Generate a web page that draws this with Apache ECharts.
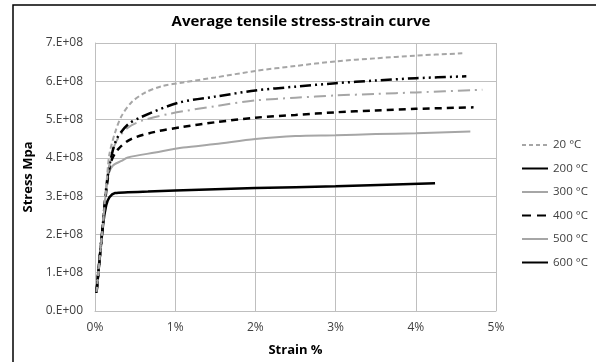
<!DOCTYPE html>
<html>
<head>
<meta charset="utf-8">
<script src="https://cdn.jsdelivr.net/npm/echarts@6/dist/echarts.min.js"></script>
<style>html,body{margin:0;padding:0;background:#fff}#c{width:596px;height:362px}</style>
</head>
<body>
<div id="c"></div>
<script>
var seriesNames = ['20 °C', '200 °C', '300 °C', '400 °C', '500 °C', '600 °C'];
var s20 = [[0.02,0.5e8],[0.1,2.3e8],[0.15,3.5e8],[0.18,4.1e8],[0.25,4.66e8],[0.33,5.09e8],[0.45,5.44e8],[0.62,5.70e8],[0.83,5.87e8],[1.1,5.97e8],[1.5,6.1e8],[2,6.27e8],[2.5,6.4e8],[3,6.52e8],[3.5,6.6e8],[4,6.67e8],[4.58,6.73e8]];
var s200 = [[0.02,0.5e8],[0.1,2.3e8],[0.15,3.4e8],[0.2,4.0e8],[0.27,4.49e8],[0.41,4.87e8],[0.58,5.07e8],[1.04,5.44e8],[1.5,5.6e8],[2,5.76e8],[2.5,5.86e8],[3,5.95e8],[3.5,6.02e8],[4,6.08e8],[4.63,6.13e8]];
var s300 = [[0.02,0.5e8],[0.1,2.3e8],[0.15,3.4e8],[0.2,4.0e8],[0.27,4.45e8],[0.41,4.79e8],[0.6,4.98e8],[0.95,5.16e8],[1.5,5.35e8],[2,5.5e8],[2.5,5.57e8],[3,5.63e8],[3.5,5.67e8],[4,5.71e8],[4.83,5.78e8]];
var s400 = [[0.02,0.5e8],[0.1,2.3e8],[0.15,3.3e8],[0.2,3.9e8],[0.29,4.23e8],[0.45,4.49e8],[0.75,4.68e8],[1.1,4.81e8],[1.5,4.93e8],[2,5.05e8],[2.5,5.12e8],[3,5.19e8],[3.5,5.24e8],[4,5.28e8],[4.72,5.32e8]];
var s500 = [[0.02,0.5e8],[0.1,2.3e8],[0.16,3.49e8],[0.22,3.79e8],[0.33,3.92e8],[0.41,4.01e8],[0.75,4.14e8],[1.1,4.27e8],[1.5,4.36e8],[2,4.49e8],[2.5,4.57e8],[3,4.59e8],[3.5,4.62e8],[4,4.64e8],[4.68,4.69e8]];
var s600 = [[0.017,0.47e8],[0.1,2.24e8],[0.14,2.76e8],[0.18,2.97e8],[0.25,3.08e8],[0.41,3.1e8],[0.66,3.12e8],[1,3.15e8],[2,3.21e8],[3,3.26e8],[4.24,3.34e8]];
var yTickLabels = ['0.E+00','1.E+08','2.E+08','3.E+08','4.E+08','5.E+08','6.E+08','7.E+08'];
var xTickLabels = ['0%','1%','2%','3%','4%','5%'];

var FONT = 'Open Sans';
var gray = '#a6a6a6';
var styles = [
  {color: gray, width: 2, type: [5, 3]},
  {color: '#000', width: 2.5, type: [11, 4, 2, 4, 2, 4]},
  {color: gray, width: 2, type: [12, 5, 2, 5]},
  {color: '#000', width: 2.5, type: [7, 5]},
  {color: gray, width: 2, type: 'solid'},
  {color: '#000', width: 2.5, type: 'solid'}
];
var legendStyles = [
  {type: [4, 3]}, {type: 'solid'}, {type: 'solid'}, {type: [9, 6]}, {type: 'solid'}, {type: 'solid'}
];
var datas = [s20, s200, s300, s400, s500, s600];

var chart = echarts.init(document.getElementById('c'), null, {renderer: 'canvas'});
chart.setOption({
  animation: false,
  backgroundColor: '#fff',
  title: {
    text: 'Average tensile stress-strain curve',
    left: 296, top: 9, textAlign: 'center',
    textStyle: {fontFamily: FONT, fontWeight: 'bold', fontSize: 15, color: '#000'}
  },
  legend: {
    orient: 'vertical', left: 516, top: 134,
    itemWidth: 26, itemHeight: 14, itemGap: 11.5,
    textStyle: {fontFamily: FONT, fontSize: 11.5, color: '#404040'},
    data: seriesNames.map(function (n, i) {
      return {name: n, lineStyle: legendStyles[i], itemStyle: {color: 'rgba(0,0,0,0)', borderWidth: 0, opacity: 0}};
    })
  },
  grid: {left: 95, right: 100, top: 43, bottom: 49, containLabel: false},
  xAxis: {
    type: 'value', min: 0, max: 5, interval: 1,
    name: 'Strain %', nameLocation: 'middle', nameGap: 33,
    nameTextStyle: {fontFamily: FONT, fontWeight: 'bold', fontSize: 13, color: '#000'},
    axisLine: {show: true, lineStyle: {color: '#bfbfbf'}},
    axisTick: {show: false},
    splitLine: {show: true, lineStyle: {color: '#bfbfbf', width: 1}},
    axisLabel: {fontFamily: FONT, fontSize: 12, color: '#404040', margin: 11,
      formatter: function (v) { return xTickLabels[Math.round(v)]; }}
  },
  yAxis: {
    type: 'value', min: 0, max: 7e8, interval: 1e8,
    name: 'Stress Mpa', nameLocation: 'middle', nameGap: 58, nameRotate: 90,
    nameTextStyle: {fontFamily: FONT, fontWeight: 'bold', fontSize: 13, color: '#000'},
    axisLine: {show: true, lineStyle: {color: '#bfbfbf'}},
    axisTick: {show: false},
    splitLine: {show: true, lineStyle: {color: '#bfbfbf', width: 1}},
    axisLabel: {fontFamily: FONT, fontSize: 12, color: '#404040', margin: 12,
      formatter: function (v) { return yTickLabels[Math.round(v / 1e8)]; }}
  },
  graphic: [
    {type: 'polyline', shape: {points: [[13, 362], [13, 5], [596, 5]]}, style: {stroke: '#000', lineWidth: 1.5, fill: null}, silent: true}
  ],
  series: datas.map(function (d, i) {
    return {
      name: seriesNames[i], type: 'line', data: d, smooth: 0.3,
      showSymbol: false, symbol: 'none',
      lineStyle: styles[i], itemStyle: {color: styles[i].color},
      z: 10 - i
    };
  })
});
</script>
</body>
</html>
